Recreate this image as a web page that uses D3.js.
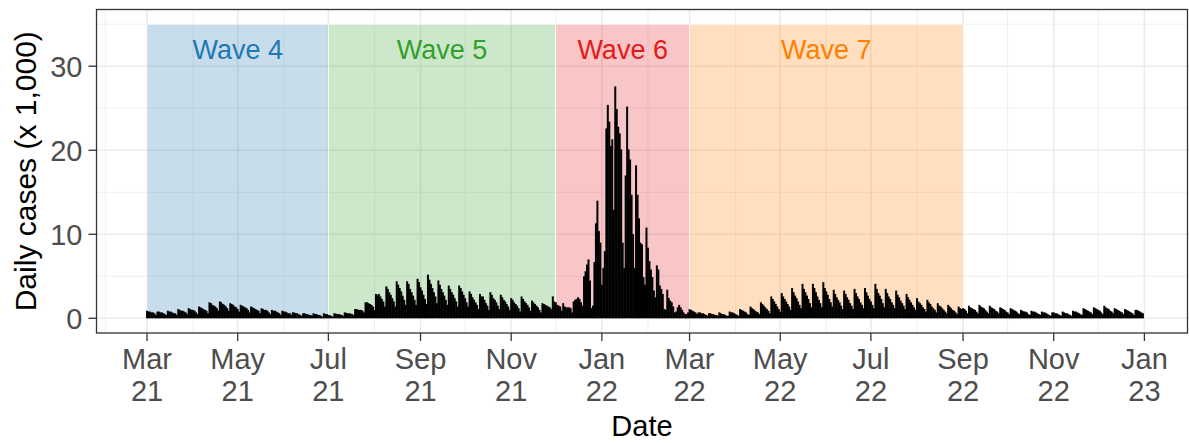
<!DOCTYPE html>
<html>
<head>
<meta charset="utf-8">
<script src="https://cdn.jsdelivr.net/npm/d3@7/dist/d3.min.js"></script>
<style>
body { margin: 0; background: #fff; }
text { font-family: "Liberation Sans", Arial, sans-serif; }
</style>
</head>
<body>
<div class="chart-container"></div>
<script>
// wave shading
var waveNames = ["Wave 4", "Wave 5", "Wave 6", "Wave 7"];
var waveStarts = ["2021-03-01", "2021-07-01", "2021-12-01", "2022-03-01"];
var waveEnds = ["2021-07-01", "2021-12-01", "2022-03-01", "2022-09-01"];
var waveColors = ["#1f78b4", "#33a02c", "#e31a1c", "#ff7f00"];
var waveTop = 35;
var waveLabelY = 32;

var yTicks = [0, 10, 20, 30];
var yMinor = [5, 15, 25, 35];

// daily cases (x 1,000), one row per week where possible
var wave4Start = "2021-03-01";
var wave4Cases = [
  0.9, 0.8, 0.8, 0.7, 0.7, 0.6, 0.4,
  0.8, 0.8, 0.7, 0.7, 0.6, 0.5, 0.4,
  0.9, 0.8, 0.8, 0.7, 0.6, 0.6, 0.4,
  1.1, 1.0, 0.9, 0.9, 0.8, 0.7, 0.5,
  1.2, 1.1, 1.0, 1.0, 0.9, 0.7, 0.5,
  1.4, 1.3, 1.2, 1.1, 1.0, 0.9, 0.6,
  1.9, 1.8, 1.6, 1.5, 1.4, 1.2, 0.9,
  2.0, 1.9, 1.7, 1.6, 1.4, 1.2, 0.9,
  1.8, 1.7, 1.6, 1.4, 1.3, 1.1, 0.8,
  1.6, 1.5, 1.4, 1.3, 1.2, 1.0, 0.7,
  1.4, 1.3, 1.2, 1.1, 1.0, 0.9, 0.6,
  1.2, 1.1, 1.0, 1.0, 0.9, 0.7, 0.5,
  1.0, 0.9, 0.9, 0.8, 0.7, 0.6, 0.4,
  0.9, 0.8, 0.8, 0.7, 0.6, 0.6, 0.4,
  0.7, 0.7, 0.6, 0.6, 0.5, 0.4, 0.3,
  0.6, 0.6, 0.5, 0.5, 0.4, 0.4, 0.3,
  0.6, 0.5, 0.5, 0.4, 0.4, 0.3, 0.2,
  0.6, 0.5, 0.5
];

var wave5Start = "2021-07-01";
var wave5Cases = [
  0.4, 0.35, 0.3, 0.2,
  0.6, 0.55, 0.5, 0.5, 0.45, 0.4, 0.3,
  0.7, 0.65, 0.6, 0.6, 0.55, 0.5, 0.4,
  1.1, 1.1, 1.0, 1.0, 1.0, 0.9, 0.7,
  1.9, 1.9, 1.8, 1.7, 1.6, 1.4, 1.0,
  2.9, 2.8, 2.9, 2.6, 2.3, 2.0, 1.4,
  3.8, 3.5, 3.1, 2.8, 2.4, 2.0, 1.4,
  4.4, 4.0, 3.6, 3.2, 2.7, 2.2, 1.6,
  4.4, 4.1, 3.5, 3.1, 2.7, 2.2, 1.6,
  4.7, 4.3, 3.7, 3.3, 2.8, 2.3, 1.7,
  5.2, 4.6, 4.1, 3.6, 3.1, 2.6, 1.8,
  4.5, 4.0, 3.5, 3.1, 2.7, 2.2, 1.6,
  3.9, 3.5, 3.1, 2.8, 2.4, 2.0, 1.4,
  3.9, 3.6, 3.2, 2.8, 2.4, 1.9, 1.4,
  3.2, 2.9, 2.5, 2.2, 1.9, 1.6, 1.1,
  2.9, 2.6, 2.6, 2.2, 1.8, 1.5, 1.0,
  3.1, 2.8, 2.4, 2.2, 1.9, 1.5, 1.1,
  2.8, 2.5, 2.2, 2.0, 1.7, 1.4, 1.0,
  2.4, 2.2, 1.9, 1.7, 1.5, 1.2, 0.8,
  2.6, 2.3, 2.0, 1.8, 1.6, 1.3, 0.9,
  2.1, 1.9, 1.7, 1.5, 1.3, 1.0, 0.7,
  1.8, 1.7, 1.6, 1.5, 1.4, 1.3, 1.1,
  2.6, 2.0
];

var wave6Start = "2021-12-01";
var wave6Cases = [
  1.9, 1.6, 1.5, 1.4, 0.9,
  1.8, 1.4, 1.3, 1.3, 1.3, 1.2, 0.7,
  2.0, 2.2, 2.3, 2.5, 2.3, 1.9, 1.5,
  5.0, 5.6, 6.4, 7.0, 4.5, 1.2, 1.5,
  6.7, 11.3, 14.0, 10.4, 9.0, 4.0, 6.0,
  8.0, 22.6, 25.4, 23.4, 20.5, 21.3, 12.9,
  27.6, 24.9, 22.8, 22.0, 20.1, 9.0, 6.0,
  17.0, 25.2, 20.1, 18.9, 14.7, 10.0, 6.0,
  18.2, 14.7, 11.9, 9.0, 8.8, 4.9, 4.0,
  10.8, 8.4, 6.8, 5.8, 4.9, 3.3, 2.5,
  6.3, 5.8, 3.9, 3.5, 2.9, 1.1, 1.0,
  3.4, 2.4, 2.1, 1.9, 1.4, 0.7, 0.8,
  1.3, 1.6, 1.3, 1.0, 0.7, 0.5, 0.5,
  0.7
];

var wave7Start = "2022-03-01";
var wave7Cases = [
  1.1, 1.0, 0.9, 0.8, 0.7, 0.5,
  0.7, 0.7, 0.6, 0.6, 0.5, 0.4, 0.3,
  0.6, 0.6, 0.5, 0.5, 0.4, 0.4, 0.3,
  0.7, 0.6, 0.5, 0.5, 0.4, 0.3, 0.3,
  0.8, 0.7, 0.7, 0.6, 0.5, 0.4, 0.3,
  1.1, 1.0, 0.9, 0.8, 0.7, 0.5, 0.4,
  1.4, 1.2, 1.1, 0.9, 0.8, 0.7, 0.5,
  1.9, 1.7, 1.5, 1.3, 1.1, 0.9, 0.6,
  2.6, 2.3, 2.0, 1.7, 1.4, 1.1, 0.8,
  3.0, 2.6, 2.3, 2.0, 1.7, 1.4, 1.0,
  3.6, 3.1, 2.7, 2.4, 2.0, 1.6, 1.2,
  4.1, 3.5, 3.1, 2.7, 2.3, 1.8, 1.3,
  4.1, 3.6, 3.1, 2.6, 2.2, 1.8, 1.3,
  4.3, 3.6, 3.2, 2.8, 2.3, 1.9, 1.4,
  3.4, 2.9, 2.5, 2.2, 1.9, 1.5, 1.1,
  3.3, 2.9, 2.5, 2.2, 1.8, 1.5, 1.1,
  3.5, 3.0, 2.6, 2.3, 1.9, 1.6, 1.2,
  3.6, 3.1, 2.7, 2.3, 2.0, 1.6, 1.2,
  4.1, 3.5, 3.0, 2.7, 2.3, 1.8, 1.3,
  3.5, 3.0, 2.6, 2.3, 1.9, 1.6, 1.2,
  3.3, 2.8, 2.5, 2.1, 1.8, 1.5, 1.1,
  2.9, 2.5, 2.2, 1.9, 1.6, 1.3, 1.0,
  2.4, 2.0, 1.8, 1.6, 1.3, 1.1, 0.8,
  2.2, 1.9, 1.7, 1.4, 1.2, 1.0, 0.7,
  1.8, 1.5, 1.4, 1.2, 1.0, 0.8, 0.6,
  1.6, 1.4, 1.2, 1.0, 0.9, 0.7, 0.5,
  1.4, 1.2, 1.1
];

var postStart = "2022-09-01";
var postCases = [
  1.2, 1.1, 0.9, 0.6,
  1.5, 1.3, 1.2, 1.1, 1.0, 0.8, 0.6,
  1.6, 1.4, 1.3, 1.2, 1.0, 0.8, 0.6,
  1.5, 1.3, 1.2, 1.1, 0.9, 0.8, 0.6,
  1.3, 1.2, 1.1, 1.0, 0.8, 0.7, 0.5,
  1.2, 1.1, 1.0, 0.9, 0.8, 0.6, 0.5,
  1.0, 0.9, 0.8, 0.8, 0.7, 0.5, 0.4,
  0.9, 0.8, 0.8, 0.7, 0.6, 0.5, 0.4,
  0.8, 0.7, 0.7, 0.6, 0.5, 0.4, 0.3,
  0.7, 0.7, 0.6, 0.6, 0.5, 0.4, 0.3,
  0.8, 0.7, 0.6, 0.6, 0.5, 0.4, 0.3,
  0.9, 0.8, 0.8, 0.7, 0.6, 0.5, 0.4,
  1.2, 1.1, 1.0, 0.9, 0.8, 0.7, 0.5,
  1.3, 1.2, 1.1, 1.0, 0.9, 0.7, 0.5,
  1.5, 1.3, 1.2, 1.1, 0.9, 0.8, 0.6,
  1.2, 1.1, 1.0, 0.9, 0.8, 0.7, 0.5,
  1.1, 1.0, 0.9, 0.8, 0.7, 0.6, 0.4,
  1.0, 1.0, 0.9, 0.8, 0.7, 0.6
];

var width = 1189, height = 443;
var panel = {left: 96.5, right: 1187.5, top: 9.5, bottom: 333};
var parseDate = d3.utcParse("%Y-%m-%d");

var segments = [
  [wave4Start, wave4Cases],
  [wave5Start, wave5Cases],
  [wave6Start, wave6Cases],
  [wave7Start, wave7Cases],
  [postStart, postCases]
];

var daily = segments.reduce(function (acc, seg) {
  var start = parseDate(seg[0]);
  seg[1].forEach(function (v, i) {
    acc.push({date: d3.utcDay.offset(start, i), val: v});
  });
  return acc;
}, []);

var waves = waveNames.map(function (n, i) {
  return {name: n, start: parseDate(waveStarts[i]), end: parseDate(waveEnds[i]), color: waveColors[i]};
});

var x = d3.scaleUtc()
  .domain([parseDate("2021-01-26"), parseDate("2023-01-30")])
  .range([panel.left, panel.right]);

var y = d3.scaleLinear()
  .domain([-1.75, 36.75])
  .range([panel.bottom, panel.top]);

var svg = d3.select(".chart-container")
  .append("svg")
  .attr("width", width)
  .attr("height", height);

svg.append("defs").append("clipPath").attr("id", "panel-clip")
  .append("rect")
  .attr("x", panel.left).attr("y", panel.top)
  .attr("width", panel.right - panel.left).attr("height", panel.bottom - panel.top);

var plot = svg.append("g").attr("clip-path", "url(#panel-clip)");

// grid
var monthsAll = x.ticks(d3.utcMonth.every(1));
var monthsMajor = x.ticks(d3.utcMonth.every(2));

plot.append("g").selectAll("line")
  .data(monthsAll)
  .enter().append("line")
  .attr("x1", function (d) { return x(d); })
  .attr("x2", function (d) { return x(d); })
  .attr("y1", panel.top).attr("y2", panel.bottom)
  .attr("stroke", "#ebebeb").attr("stroke-width", 0.8);

plot.append("g").selectAll("line")
  .data(yMinor)
  .enter().append("line")
  .attr("x1", panel.left).attr("x2", panel.right)
  .attr("y1", function (d) { return y(d); })
  .attr("y2", function (d) { return y(d); })
  .attr("stroke", "#ebebeb").attr("stroke-width", 0.8);

plot.append("g").selectAll("line")
  .data(monthsMajor)
  .enter().append("line")
  .attr("x1", function (d) { return x(d); })
  .attr("x2", function (d) { return x(d); })
  .attr("y1", panel.top).attr("y2", panel.bottom)
  .attr("stroke", "#ebebeb").attr("stroke-width", 1.5);

plot.append("g").selectAll("line")
  .data(yTicks)
  .enter().append("line")
  .attr("x1", panel.left).attr("x2", panel.right)
  .attr("y1", function (d) { return y(d); })
  .attr("y2", function (d) { return y(d); })
  .attr("stroke", "#ebebeb").attr("stroke-width", 1.5);

// wave rectangles
plot.append("g").selectAll("rect")
  .data(waves)
  .enter().append("rect")
  .attr("x", function (d) { return x(d.start); })
  .attr("width", function (d) { return x(d.end) - x(d.start); })
  .attr("y", y(waveTop))
  .attr("height", y(0) - y(waveTop))
  .attr("fill", function (d) { return d.color; })
  .attr("fill-opacity", 0.25)
  .attr("stroke", "#fff")
  .attr("stroke-width", 0.8);

plot.append("g").selectAll("text")
  .data(waves)
  .enter().append("text")
  .attr("x", function (d) { return (x(d.start) + x(d.end)) / 2; })
  .attr("y", y(waveLabelY))
  .attr("dy", "0.35em")
  .attr("text-anchor", "middle")
  .attr("font-size", 27)
  .attr("fill", function (d) { return d.color; })
  .text(function (d) { return d.name; });

// daily bars (slight overlap so neighbouring days render solid)
plot.append("g").selectAll("rect")
  .data(daily)
  .enter().append("rect")
  .attr("x", function (d) { return x(d3.utcHour.offset(d.date, -12)) - 0.25; })
  .attr("width", function (d) { return x(d3.utcHour.offset(d.date, 12)) - x(d3.utcHour.offset(d.date, -12)) + 0.5; })
  .attr("y", function (d) { return y(d.val); })
  .attr("height", function (d) { return y(0) - y(d.val); })
  .attr("fill", "#000");

// panel border
svg.append("rect")
  .attr("x", panel.left).attr("y", panel.top)
  .attr("width", panel.right - panel.left).attr("height", panel.bottom - panel.top)
  .attr("fill", "none").attr("stroke", "#333").attr("stroke-width", 1.3);

// y axis
var yAxis = svg.append("g");
yAxis.selectAll("line")
  .data(yTicks)
  .enter().append("line")
  .attr("x1", panel.left - 8).attr("x2", panel.left)
  .attr("y1", function (d) { return y(d); })
  .attr("y2", function (d) { return y(d); })
  .attr("stroke", "#333").attr("stroke-width", 1.3);
yAxis.selectAll("text")
  .data(yTicks)
  .enter().append("text")
  .attr("x", panel.left - 14)
  .attr("y", function (d) { return y(d); })
  .attr("dy", "0.36em")
  .attr("text-anchor", "end")
  .attr("font-size", 29)
  .attr("fill", "#4d4d4d")
  .text(function (d) { return d; });

// x axis
var fmtMonth = d3.utcFormat("%b"), fmtYear = d3.utcFormat("%y");
var xAxis = svg.append("g");
var xTicks = monthsMajor.filter(function (d) { return x(d) >= panel.left && x(d) <= panel.right; });
xAxis.selectAll("line")
  .data(xTicks)
  .enter().append("line")
  .attr("x1", function (d) { return x(d); })
  .attr("x2", function (d) { return x(d); })
  .attr("y1", panel.bottom).attr("y2", panel.bottom + 8)
  .attr("stroke", "#333").attr("stroke-width", 1.3);
var xLabels = xAxis.selectAll("text")
  .data(xTicks)
  .enter().append("text")
  .attr("text-anchor", "middle")
  .attr("font-size", 29)
  .attr("fill", "#4d4d4d");
xLabels.append("tspan")
  .attr("x", function (d) { return x(d); })
  .attr("y", 369)
  .text(function (d) { return fmtMonth(d); });
xLabels.append("tspan")
  .attr("x", function (d) { return x(d); })
  .attr("y", 401)
  .text(function (d) { return fmtYear(d); });

// axis titles
svg.append("text")
  .attr("x", (panel.left + panel.right) / 2)
  .attr("y", 436)
  .attr("text-anchor", "middle")
  .attr("font-size", 29)
  .attr("fill", "#000")
  .text("Date");

svg.append("text")
  .attr("transform", "translate(36," + ((panel.top + panel.bottom) / 2) + ") rotate(-90)")
  .attr("text-anchor", "middle")
  .attr("font-size", 30)
  .attr("fill", "#000")
  .text("Daily cases (x 1,000)");
</script>
</body>
</html>
